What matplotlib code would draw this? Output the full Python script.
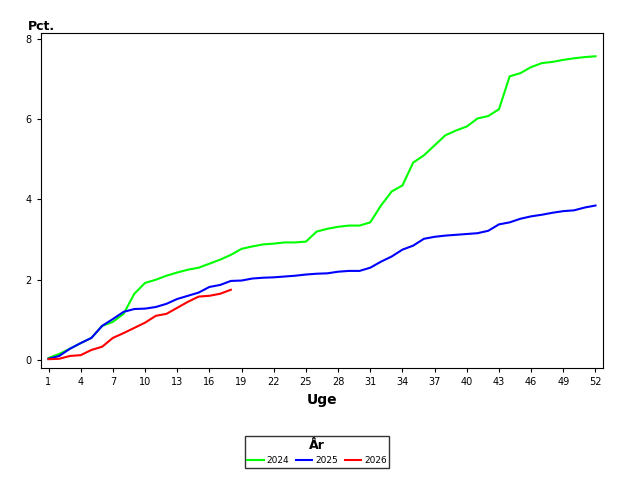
import matplotlib
matplotlib.use("Agg")
import matplotlib.pyplot as plt

weeks = list(range(1, 53))
y2024 = [0.05,0.15,0.28,0.42,0.55,0.85,0.95,1.15,1.65,1.92,2.0,2.1,2.18,2.25,2.3,2.4,2.5,2.62,2.77,2.83,
         2.88,2.9,2.93,2.93,2.95,3.2,3.27,3.32,3.35,3.35,3.43,3.85,4.2,4.35,4.92,5.1,5.35,5.6,5.72,5.82,
         6.02,6.08,6.25,7.07,7.15,7.3,7.4,7.43,7.48,7.52,7.55,7.57]
y2025 = [0.03,0.1,0.28,0.42,0.55,0.85,1.02,1.2,1.27,1.28,1.32,1.4,1.52,1.6,1.68,1.82,1.87,1.97,1.98,2.03,
         2.05,2.06,2.08,2.1,2.13,2.15,2.16,2.2,2.22,2.22,2.3,2.45,2.58,2.75,2.85,3.02,3.07,3.1,3.12,3.14,
         3.16,3.22,3.38,3.43,3.52,3.58,3.62,3.67,3.71,3.73,3.8,3.85]
y2026 = [0.02,0.03,0.1,0.12,0.25,0.33,0.55,0.67,0.8,0.93,1.1,1.15,1.3,1.45,1.58,1.6,1.65,1.75]
xticks = list(range(1, 53, 3))
yticks = [0, 2, 4, 6, 8]

fig = plt.figure(figsize=(6.4, 4.8), dpi=100)
ax = fig.add_axes([41/640, 1-368/480, 562/640, 335/480])
ax.plot(weeks, y2024, color="#00ff00", lw=1.5, label="2024")
ax.plot(weeks, y2025, color="#0000ff", lw=1.5, label="2025")
ax.plot(weeks[:len(y2026)], y2026, color="#ff0000", lw=1.5, label="2026")
ax.set_xlim(0.3, 52.7)
ax.set_ylim(-0.2, 8.15)
ax.set_xticks(xticks)
ax.set_yticks(yticks)
ax.tick_params(labelsize=7, length=3)
ax.set_xlabel("Uge", fontsize=10, fontweight="bold")
fig.text(28/640, 1-27/480, "Pct.", fontsize=9, fontweight="bold", va="center")
leg = fig.legend(loc="center", bbox_to_anchor=(317/640, 1-452/480), ncol=3, title="År",
                 fontsize=6.5, title_fontproperties={"weight": "bold", "size": 9},
                 frameon=True, fancybox=False, edgecolor="black", handlelength=1.8,
                 handletextpad=0.3, columnspacing=0.8, borderpad=0.3)
fig.savefig("out.png", dpi=100)
